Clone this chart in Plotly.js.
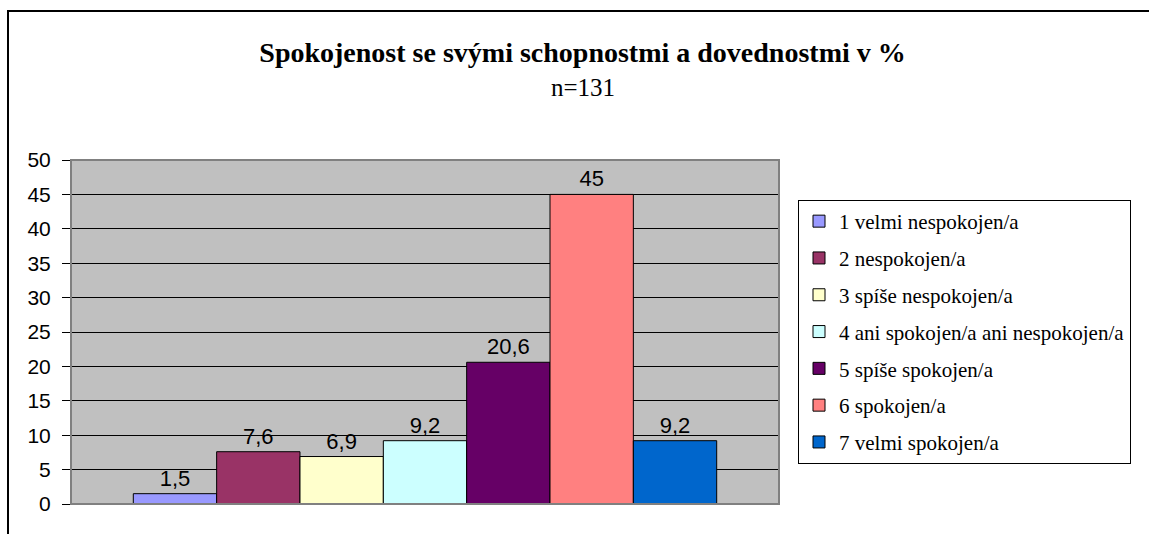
<!DOCTYPE html>
<html>
<head>
<meta charset="utf-8">
<script src="https://cdn.plot.ly/plotly-3.0.1.min.js"></script>
<style>
  html, body { margin: 0; padding: 0; background: #ffffff; }
  #chart { position: absolute; left: 0; top: 0; width: 1149px; height: 534px; }
  #frame { position: absolute; left: 7px; top: 10px; width: 1300px; height: 700px;
           border: 2px solid #000000; pointer-events: none; box-sizing: border-box; }
</style>
</head>
<body>
<div id="chart"></div>
<div id="frame"></div>
<script>
// ---- data ----
const categories = [
  "1 velmi nespokojen/a",
  "2 nespokojen/a",
  "3 spíše nespokojen/a",
  "4 ani spokojen/a ani nespokojen/a",
  "5 spíše spokojen/a",
  "6 spokojen/a",
  "7 velmi spokojen/a"
];
const values = [1.5, 7.6, 6.9, 9.2, 20.6, 45, 9.2];
const colors = ["#9999FF", "#993366", "#FFFFCC", "#CCFFFF", "#660066", "#FF8080", "#0066CC"];
const titleText = "Spokojenost se svými schopnostmi a dovednostmi v %";
const subtitleText = "n=131";

const traces = categories.map((name, i) => ({
  type: "bar",
  name: name,
  x: [0],
  y: [values[i]],
  text: [String(values[i]).replace(".", ",")],
  textposition: "outside",
  constraintext: "none",
  cliponaxis: false,
  textfont: { family: "Liberation Sans, Arial, sans-serif", size: 22, color: "#000000" },
  marker: { color: colors[i], line: { color: "#000000", width: 1 } },
  legendgroup: "g" + i,
  hoverinfo: "skip"
}));

const layout = {
  width: 1149,
  height: 534,
  margin: { l: 71, r: 370, t: 160, b: 30, pad: 0 },
  paper_bgcolor: "rgba(0,0,0,0)",
  plot_bgcolor: "#C0C0C0",
  barmode: "group",
  bargap: 0.176,
  bargroupgap: 0,
  showlegend: true,
  title: {
    text: "<b>" + titleText + "</b>",
    font: { family: "Liberation Serif, Times New Roman, serif", size: 28, color: "#000000" },
    xref: "container", x: 0.507, xanchor: "center",
    yref: "container", y: 1 - 52 / 534, yanchor: "middle"
  },
  annotations: [{
    text: subtitleText,
    xref: "paper", yref: "paper",
    x: (583 - 71) / 708, y: 1 + (160 - 87) / 344,
    xanchor: "center", yanchor: "middle",
    showarrow: false,
    font: { family: "Liberation Serif, Times New Roman, serif", size: 25, color: "#000000" }
  }],
  xaxis: {
    range: [-0.5, 0.5],
    showticklabels: false,
    ticks: "",
    showgrid: false,
    zeroline: false,
    showline: true,
    linecolor: "#000000",
    linewidth: 1,
    fixedrange: true
  },
  yaxis: {
    range: [0, 50],
    dtick: 5,
    tick0: 0,
    ticks: "outside",
    ticklen: 8,
    tickcolor: "#000000",
    ticklabelstandoff: 7,
    showline: true,
    linecolor: "#000000",
    linewidth: 1,
    showgrid: true,
    gridcolor: "#000000",
    gridwidth: 1,
    zeroline: false,
    tickfont: { family: "Liberation Sans, Arial, sans-serif", size: 21, color: "#000000" },
    fixedrange: true
  },
  shapes: [{
    type: "rect", xref: "paper", yref: "paper",
    x0: 0, x1: 1, y0: 0, y1: 1,
    line: { color: "#808080", width: 2 },
    fillcolor: "rgba(0,0,0,0)",
    layer: "above"
  }],
  legend: {
    x: (798 - 71) / 708,
    xanchor: "left",
    y: (504 - 200) / 344,
    yanchor: "top",
    bgcolor: "#ffffff",
    bordercolor: "#000000",
    borderwidth: 1,
    traceorder: "grouped",
    tracegroupgap: 6.5,
    font: { family: "Liberation Serif, Times New Roman, serif", size: 21, color: "#000000" },
    itemclick: false,
    itemdoubleclick: false
  }
};

Plotly.newPlot("chart", traces, layout, { displayModeBar: false, staticPlot: true });
</script>
</body>
</html>
